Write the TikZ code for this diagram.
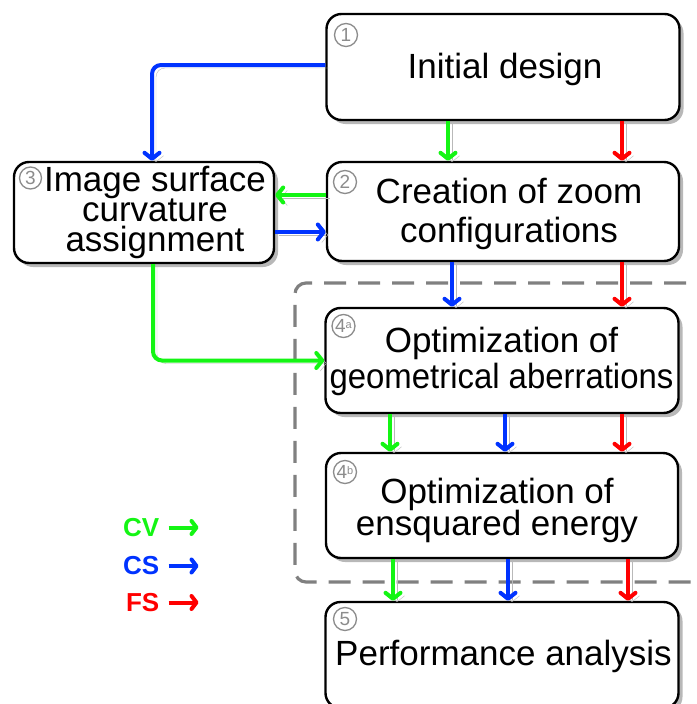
\documentclass[tikz,border=0pt]{standalone}
\usepackage{fontspec}
\usepackage{graphicx}
\setmainfont{Liberation Sans}
\usetikzlibrary{arrows.meta,shadows,calc}
\definecolor{cvgreen}{RGB}{20,245,20}
\definecolor{csblue}{RGB}{0,51,255}
\definecolor{fsred}{RGB}{255,0,0}
\definecolor{shadowgray}{RGB}{185,185,185}
\definecolor{numgray}{RGB}{140,140,140}
\definecolor{dashgray}{RGB}{128,128,128}
\lineskiplimit=-100pt
\begin{document}
\begin{tikzpicture}[x=1pt,y=-1pt,
  box/.style={draw=black, line width=2.4pt, rounded corners=15pt, fill=white,
    drop shadow={shadow xshift=4pt, shadow yshift=-4pt, fill=black, opacity=0.28},
    inner sep=0pt},
  boxtext/.style={align=center, inner sep=0pt, font=\fontsize{35}{37}\selectfont},
  num/.style={circle, draw=numgray, line width=1.3pt, text=numgray, minimum size=23pt,
    inner sep=0pt, font=\fontsize{19}{19}\selectfont},
  tipA/.tip={Straight Barb[length=6pt,width=15pt,round]},
  flow/.style={line width=4pt, draw=#1, -tipA, rounded corners=9pt,
    preaction={draw=shadowgray, -tipA, transform canvas={shift={(4,3)}}}},
  leg/.style={font=\bfseries\fontsize{26}{26}\selectfont, text=#1, anchor=east, inner sep=0pt},
  legarrow/.style={line width=4pt, draw=#1, -{Straight Barb[length=5pt,width=13pt,round]}},
]
\useasboundingbox (0,0) rectangle (696,704);
\fill[white] (0,0) rectangle (696,704);

% dashed group frame
\draw[dashgray, line width=3.2pt, dash pattern=on 22pt off 12pt, rounded corners=11pt]
  (720,283) -- (295,283) -- (295,582) -- (720,582);

% boxes
\node[box, minimum width=353pt, minimum height=106pt] (b1) at (503,67) {};
\node[box, minimum width=352pt, minimum height=99pt] (b2) at (503,211.5) {};
\node[box, minimum width=260pt, minimum height=101pt] (b3) at (144,212.5) {};
\node[box, minimum width=353pt, minimum height=105pt] (b4a) at (502,360.5) {};
\node[box, minimum width=352pt, minimum height=105pt] (b4b) at (502,505.5) {};
\node[box, minimum width=353pt, minimum height=106pt] (b5) at (502,655) {};

% texts
\node[boxtext] (t1) at (505,69) {Initial design};
\node[boxtext, font=\fontsize{35}{39}\selectfont] (t2) at (509,214) {Creation of zoom\\configurations};
\node[boxtext, font=\fontsize{35}{30}\selectfont] (t3) at (155,212) {Image surface\\curvature\\assignment};
\node[boxtext, font=\fontsize{35}{36}\selectfont] (t4a) at (501.5,361) {Optimization of\\\scalebox{0.94}[1]{geometrical aberrations}};
\node[boxtext, font=\fontsize{35}{32}\selectfont] (t4b) at (497,510) {Optimization of\\ensquared energy};
\node[boxtext] (t5) at (503.5,656) {Performance analysis};

% step numbers
\node[num] (n1) at (346,35) {1};
\node[num] (n2) at (345,182) {2};
\node[num, minimum size=22pt] (n3) at (30.5,178) {3};
\node[num] (n4a) at (343.5,326) {4\raisebox{4pt}{\fontsize{11}{11}\selectfont a}};
\node[num] (n4b) at (345,472) {4\raisebox{4pt}{\fontsize{11}{11}\selectfont b}};
\node[num] (n5) at (345,619) {5};

% connectors
\draw[flow=csblue] ([yshift=2pt]b1.west) -| ([xshift=8pt]b3.north);
\draw[flow=cvgreen] ([xshift=-55pt]b1.south) -- ([xshift=-55pt]b2.north);
\draw[flow=fsred] ([xshift=119pt]b1.south) -- ([xshift=119pt]b2.north);

\draw[flow=cvgreen] ([yshift=16.5pt]b2.west) -- ([yshift=17.5pt]b3.east);
\draw[flow=csblue] ([yshift=-19.5pt]b3.east) -- ([yshift=-20.5pt]b2.west);

\draw[flow=csblue] ([xshift=-51pt]b2.south) -- ([xshift=-50pt]b4a.north);
\draw[flow=fsred] ([xshift=119pt]b2.south) -- ([xshift=120pt]b4a.north);

\draw[flow=cvgreen] ([xshift=9pt]b3.south) |- (b4a.west);

\draw[flow=cvgreen] ([xshift=-112pt]b4a.south) -- ([xshift=-112pt]b4b.north);
\draw[flow=csblue] ([xshift=3pt]b4a.south) -- ([xshift=3pt]b4b.north);
\draw[flow=fsred] ([xshift=120pt]b4a.south) -- ([xshift=120pt]b4b.north);

\draw[flow=cvgreen] ([xshift=-109pt]b4b.south) -- ([xshift=-109pt]b5.north);
\draw[flow=csblue] ([xshift=6pt]b4b.south) -- ([xshift=6pt]b5.north);
\draw[flow=fsred] ([xshift=126pt]b4b.south) -- ([xshift=126pt]b5.north);

% legend
\node[leg=cvgreen] (cv) at (159.5,527.5) {CV};
\node[leg=csblue] (cs) at (159.5,566) {CS};
\node[leg=fsred] (fs) at (159.5,602.5) {FS};
\draw[legarrow=cvgreen] ([xshift=9pt]cv.east) -- ++(30,0);
\draw[legarrow=csblue] ([xshift=9pt]cs.east) -- ++(30,0);
\draw[legarrow=fsred] ([xshift=9pt]fs.east) -- ++(30,0);
\end{tikzpicture}
\end{document}
